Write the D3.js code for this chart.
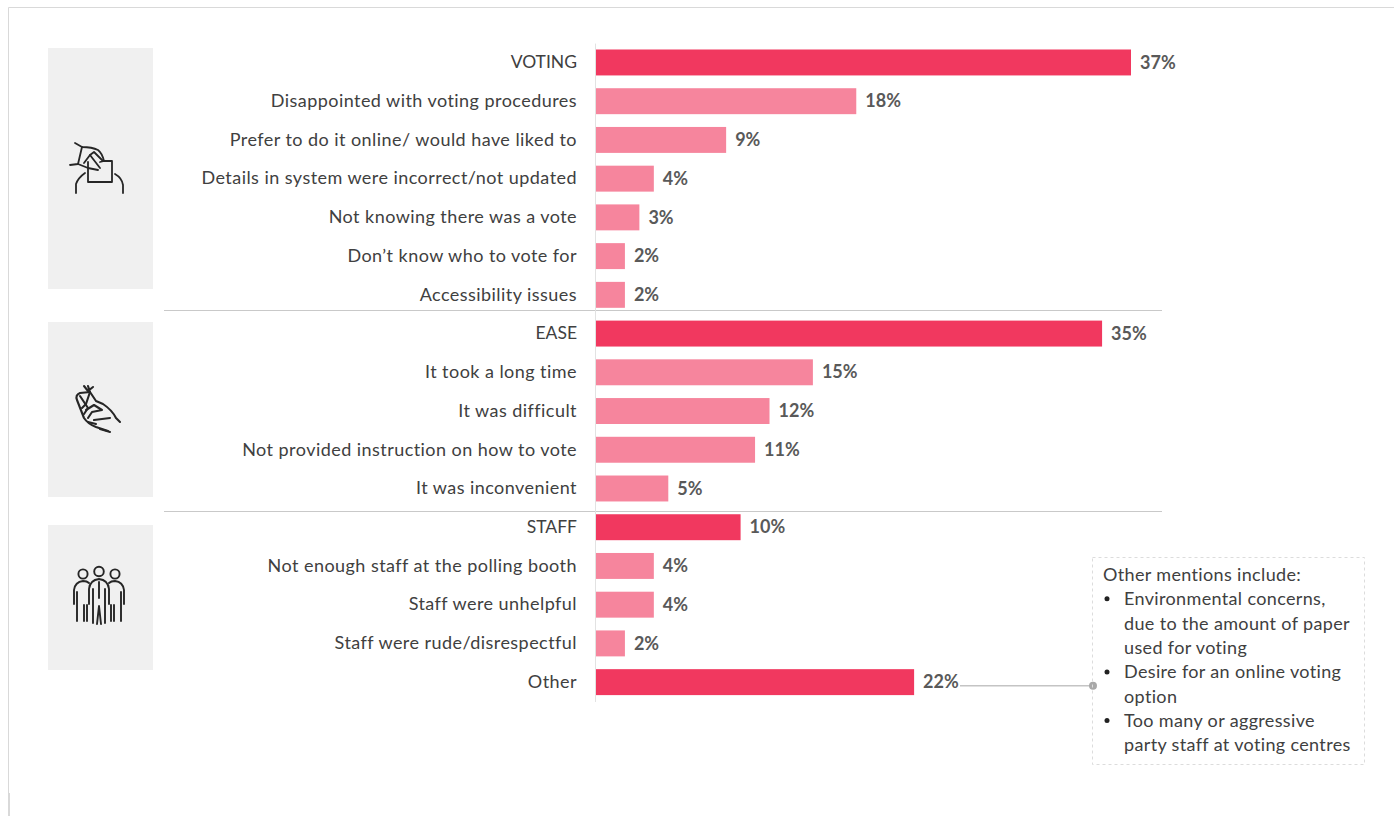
<!DOCTYPE html>
<html>
<head>
<meta charset="utf-8">
<title>Reasons for dissatisfaction with voting</title>
<script src="https://cdn.jsdelivr.net/npm/d3@7/dist/d3.min.js"></script>
<style>
  html, body { margin: 0; padding: 0; background: #fff; }
  svg { display: block; font-family: Lato, "Open Sans", sans-serif; }
</style>
</head>
<body>
<svg id="chart" width="1394" height="816"></svg>
<script>
// Reasons and their shares, in reading order
const categories = [
  "VOTING", "Disappointed with voting procedures", "Prefer to do it online/ would have liked to",
  "Details in system were incorrect/not updated", "Not knowing there was a vote",
  "Don’t know who to vote for", "Accessibility issues",
  "EASE", "It took a long time", "It was difficult", "Not provided instruction on how to vote",
  "It was inconvenient",
  "STAFF", "Not enough staff at the polling booth", "Staff were unhelpful", "Staff were rude/disrespectful",
  "Other"
];
const values = [37, 18, 9, 4, 3, 2, 2, 35, 15, 12, 11, 5, 10, 4, 4, 2, 22];
const headlineRows = ["VOTING", "EASE", "STAFF", "Other"];
const noteHeading = "Other mentions include:";
const noteBullets = [
  ["Environmental concerns,", "due to the amount of paper", "used for voting"],
  ["Desire for an online voting", "option"],
  ["Too many or aggressive", "party staff at voting centres"]
];

const HEADLINE = "#f1385f", DETAIL = "#f6859d", TEXT = "#404040", RULE = "#c9c9c9";

const svg = d3.select("#chart");
const x = d3.scaleLinear().domain([0, 37]).range([596, 1131]);
const y = d3.scaleBand().domain(categories).range([43.1, 701.5]).paddingInner(0.33).paddingOuter(0.165);

// Page frame
const frame = svg.append("g").attr("stroke", "#d9d9d9").attr("fill", "none");
frame.append("path").attr("d", "M8.5,816V7.5H1394");
frame.append("path").attr("d", "M9,793V816").attr("stroke-width", 2);

// Grey icon panels behind each group
const panels = svg.append("g").attr("fill", "#f0f0f0");
[[48, 241], [322, 175], [525, 145]].forEach(([top, h]) =>
  panels.append("rect").attr("x", 48).attr("y", top).attr("width", 105).attr("height", h));

// Rules separating the groups
svg.append("g").attr("stroke", RULE).selectAll("line").data([310.5, 511.5]).join("line")
  .attr("x1", 164).attr("x2", 1162).attr("y1", d => d).attr("y2", d => d);

// Bars
const rows = categories.map((name, i) => ({ name, value: values[i] }));
svg.append("g").selectAll("rect").data(rows).join("rect")
  .attr("x", x(0)).attr("y", d => y(d.name))
  .attr("width", d => x(d.value) - x(0)).attr("height", y.bandwidth())
  .attr("fill", d => headlineRows.includes(d.name) ? HEADLINE : DETAIL);

// Category axis; capitals run narrower than the mixed-case labels
const axis = svg.append("g").attr("transform", `translate(${x(0) - 1},0)`)
  .call(d3.axisLeft(y).tickSize(0).tickPadding(18));
axis.select(".domain").attr("stroke", "#e2e2e2");
axis.selectAll("text")
  .attr("font-family", "Lato").attr("fill", TEXT).attr("dy", "0.32em")
  .attr("font-size", d => d === d.toUpperCase() ? 17.5 : 18)
  .attr("letter-spacing", d => d === d.toUpperCase() ? 0 : 0.45);

// Leader from the Other bar to the note
const otherY = y("Other") + y.bandwidth() / 2 + 3.5;
svg.append("line").attr("x1", 960).attr("x2", 1093).attr("y1", otherY).attr("y2", otherY).attr("stroke", "#c4c4c4").attr("stroke-width", 1.5);
svg.append("circle").attr("cx", 1093).attr("cy", otherY).attr("r", 4).attr("fill", "#a8a8a8");

// Value labels
svg.append("g").selectAll("text").data(rows).join("text")
  .attr("x", d => x(d.value) + 9).attr("y", d => y(d.name) + y.bandwidth() / 2)
  .attr("dy", "0.34em").attr("font-size", 18).attr("font-weight", 700).attr("fill", "#595959")
  .text(d => d.value + "%");

// Note box
svg.append("rect").attr("x", 1092.5).attr("y", 557.5).attr("width", 272).attr("height", 207)
  .attr("fill", "none").attr("stroke", "#dcdcdc").attr("stroke-dasharray", "3 3");
const note = svg.append("g").attr("font-size", 18).attr("fill", TEXT).attr("letter-spacing", 0.35);
const lineStep = 24.35;
note.append("text").attr("x", 1103).attr("y", 581).text(noteHeading);
let lineIndex = 1;
noteBullets.forEach(lines => {
  note.append("circle").attr("cx", 1107).attr("cy", 574.5 + lineIndex * lineStep).attr("r", 2.5).attr("fill", "#222");
  lines.forEach(line => {
    note.append("text").attr("x", 1124).attr("y", 581 + lineIndex * lineStep).text(line);
    lineIndex += 1;
  });
});

// Line-art icons
const icons = svg.append("g").attr("fill", "none").attr("stroke", "#262626")
  .attr("stroke-linecap", "round").attr("stroke-linejoin", "round");

const ballot = icons.append("g").attr("stroke-width", 1.8);
[
  "M88,162V182H112V161H103",
  "M76,193V184Q78,178 85,173",
  "M115,174Q122,178 123,185V193",
  "M75,143L82,147Q92,147 98,150Q102,153 104,161L100,162",
  "M82,147L78,164L70,165",
  "M78,164L88,168L98,170",
  "M84,163L90,155L100,168",
  "M90,155L94,152L103,161"
].forEach(d => ballot.append("path").attr("d", d));

const snap = icons.append("g").attr("stroke-width", 2.1);
[
  "M84,386L88,391L93,387M88,386L90,392",
  "M90,392L80,393Q75,395 77,400L84,418Q88,424 96,427L108,431",
  "M90,392L96,401L103,404Q112,410 116,418L120,422",
  "M80,396L88,408L84,414",
  "M90,392L86,404L82,408",
  "M86,410L94,405L102,410L92,412L88,418",
  "M94,420L110,418",
  "M88,422L96,424",
  "M100,429L110,432"
].forEach(d => snap.append("path").attr("d", d));

const people = icons.append("g").attr("stroke-width", 1.9);
[[83, 574], [115, 574]].forEach(([cx, cy]) =>
  people.append("circle").attr("cx", cx).attr("cy", cy).attr("r", 4.6));
people.append("circle").attr("cx", 99).attr("cy", 571.5).attr("r", 4.8);
[
  "M74,604V590Q75,582 83,581Q87,581 89,583",
  "M124,604V590Q123,582 115,581Q111,581 109,583",
  "M89,604V589Q90,580 99,579Q108,580 109,589V604",
  "M77,592V621M84,605V621M87,605V621",
  "M121,592V621M114,605V621M111,605V621",
  "M93,589V623M105,589V623",
  "M99,582V598M97,624L99,606L101,624"
].forEach(d => people.append("path").attr("d", d));
</script>
</body>
</html>
